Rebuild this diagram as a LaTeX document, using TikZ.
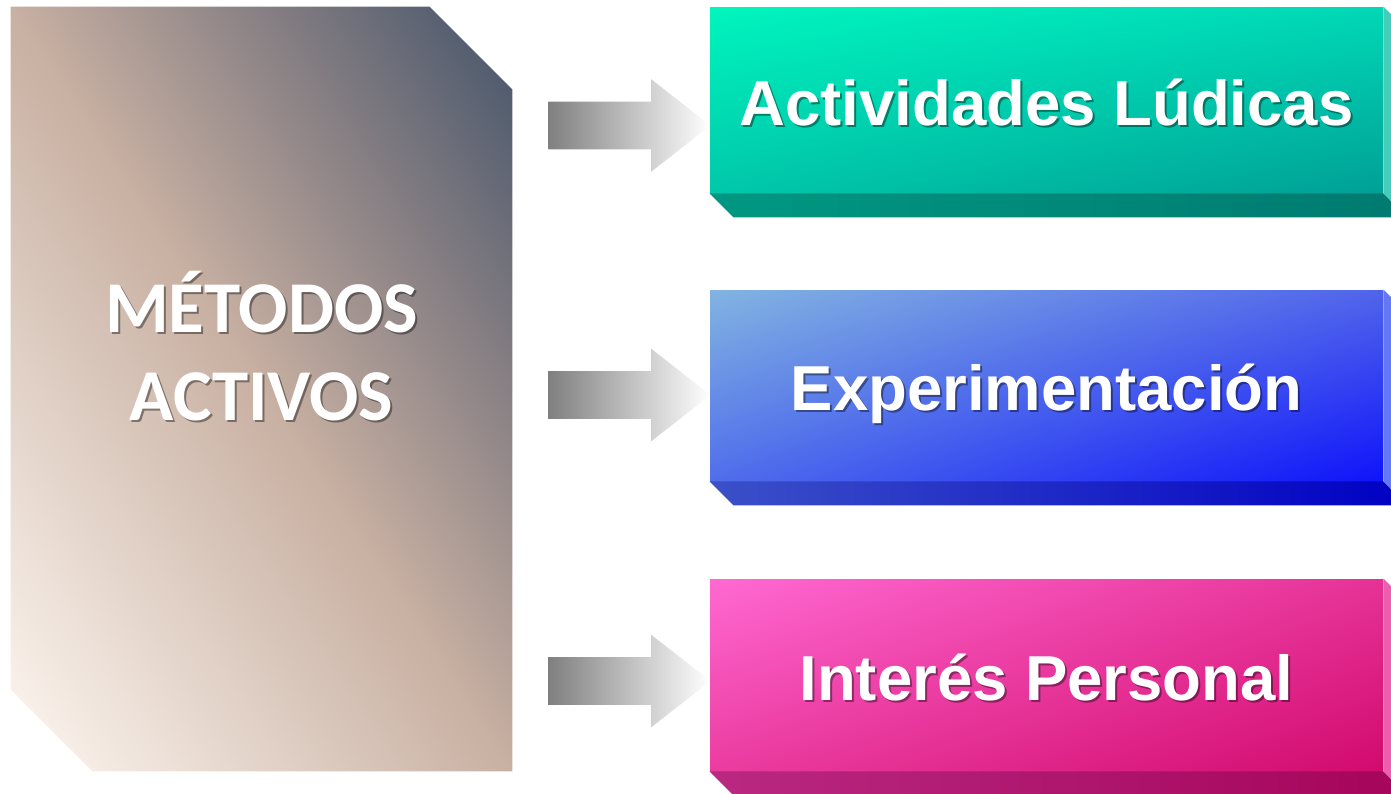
\documentclass[tikz,border=0pt]{standalone}
\usepackage{fontspec}
\setmainfont{Liberation Sans}
\newfontfamily\carlito{Carlito}
\usetikzlibrary{shapes.arrows,shadings,calc}

\definecolor{metLL}{RGB}{253,246,240}
\definecolor{metMid}{RGB}{200,176,162}
\definecolor{metQ3}{RGB}{136,128,132}
\definecolor{metUR}{RGB}{70,85,106}
\pgfdeclarehorizontalshading{metshade}{100bp}{color(0bp)=(metLL); color(16bp)=(metLL);
  color(50bp)=(metMid); color(67bp)=(metQ3); color(84bp)=(metUR); color(100bp)=(metUR)}

\tikzstyle{face} = [rectangle, inner sep=0pt, minimum width=336.5pt]
\tikzstyle{boxtxt} = [anchor=base, text=white, font=\fontsize{31.75}{38}\selectfont\bfseries]
\tikzstyle{txtsh} = [text=black, opacity=0.4]
\tikzstyle{mettxt} = [align=center, text=white, font=\carlito\fontsize{36.5}{44}\selectfont\bfseries]
\tikzstyle{arw} = [single arrow, anchor=tail, single arrow head extend=11.25pt, single arrow tip angle=76, inner sep=11.75pt, minimum height=81pt, left color=black!50, right color=white]

\begin{document}
\begin{tikzpicture}[x=0.5pt,y=-0.5pt]
\clip (0,0) rectangle (1391,793);
\fill[white] (0,0) rectangle (1391,793);

% left block
\node[rectangle, inner sep=0pt, minimum width=250.5pt, minimum height=382pt] (metodos) at (261.5,389) {};
\shade[shading=metshade, shading angle=33.3]
  (metodos.north west) -- ($(metodos.north east)+(-41.5pt,0)$) -- ($(metodos.north east)+(0,-41.5pt)$)
  -- (metodos.south east) -- ($(metodos.south west)+(41pt,0)$) -- ($(metodos.south west)+(0,41pt)$) -- cycle;
\coordinate (mt) at (261.5,346);
\node[mettxt, txtsh] at ([shift={(1pt,-1pt)}]mt) {MÉTODOS\\ACTIVOS};
\node[mettxt] (metodos-txt) at (mt) {MÉTODOS\\ACTIVOS};

% arrows
\node[arw] (arw1) at (548,125.5) {};
\node[arw] (arw2) at (548,395) {};
\node[arw] (arw3) at (548,681) {};

% right boxes
\node[face, minimum height=93pt, upper left={rgb,255:red,0;green,245;blue,190},
      upper right={rgb,255:red,0;green,215;blue,182}, lower left={rgb,255:red,0;green,200;blue,170},
      lower right={rgb,255:red,0;green,160;blue,150}] (ludicas) at (1046.5,100) {};
\node[face, minimum height=95.5pt, upper left={rgb,255:red,130;green,180;blue,225},
      upper right={rgb,255:red,80;green,100;blue,235}, lower left={rgb,255:red,80;green,110;blue,235},
      lower right={rgb,255:red,15;green,20;blue,250}] (experim) at (1046.5,385.5) {};
\node[face, minimum height=96pt, upper left={rgb,255:red,255;green,105;blue,210},
      upper right={rgb,255:red,230;green,50;blue,150}, lower left={rgb,255:red,235;green,60;blue,160},
      lower right={rgb,255:red,210;green,10;blue,110}] (interes) at (1046.5,675) {};

% 3d sides
\shade[left color={rgb,255:red,0;green,152;blue,130}, right color={rgb,255:red,0;green,122;blue,112}]
  (ludicas.south west) -- (ludicas.south east) -- ++(12pt,-12pt) -- ($(ludicas.south west)+(12pt,-12pt)$) -- cycle;
\fill[color={rgb,255:red,70;green,205;blue,185}]
  (ludicas.north east) -- ++(12pt,-12pt) -- ($(ludicas.south east)+(12pt,-12pt)$) -- (ludicas.south east) -- cycle;
\shade[left color={rgb,255:red,60;green,80;blue,200}, right color={rgb,255:red,0;green,0;blue,195}]
  (experim.south west) -- (experim.south east) -- ++(12pt,-12pt) -- ($(experim.south west)+(12pt,-12pt)$) -- cycle;
\fill[color={rgb,255:red,100;green,120;blue,245}]
  (experim.north east) -- ++(12pt,-12pt) -- ($(experim.south east)+(12pt,-12pt)$) -- (experim.south east) -- cycle;
\shade[left color={rgb,255:red,185;green,40;blue,130}, right color={rgb,255:red,165;green,5;blue,90}]
  (interes.south west) -- (interes.south east) -- ++(12pt,-12pt) -- ($(interes.south west)+(12pt,-12pt)$) -- cycle;
\fill[color={rgb,255:red,235;green,95;blue,175}]
  (interes.north east) -- ++(12pt,-12pt) -- ($(interes.south east)+(12pt,-12pt)$) -- (interes.south east) -- cycle;

% labels
\node[boxtxt, txtsh] at ([shift={(1pt,-13.5pt)}]ludicas.center) {Actividades Lúdicas};
\node[boxtxt] (ludicas-txt) at ([shift={(0pt,-12.5pt)}]ludicas.center) {Actividades Lúdicas};
\node[boxtxt, txtsh] at ([shift={(1pt,-13.5pt)}]experim.center) {Experimentación};
\node[boxtxt] (experim-txt) at ([shift={(0pt,-12.5pt)}]experim.center) {Experimentación};
\node[boxtxt, txtsh] at ([shift={(1pt,-13.5pt)}]interes.center) {Interés Personal};
\node[boxtxt] (interes-txt) at ([shift={(0pt,-12.5pt)}]interes.center) {Interés Personal};

\end{tikzpicture}
\end{document}
